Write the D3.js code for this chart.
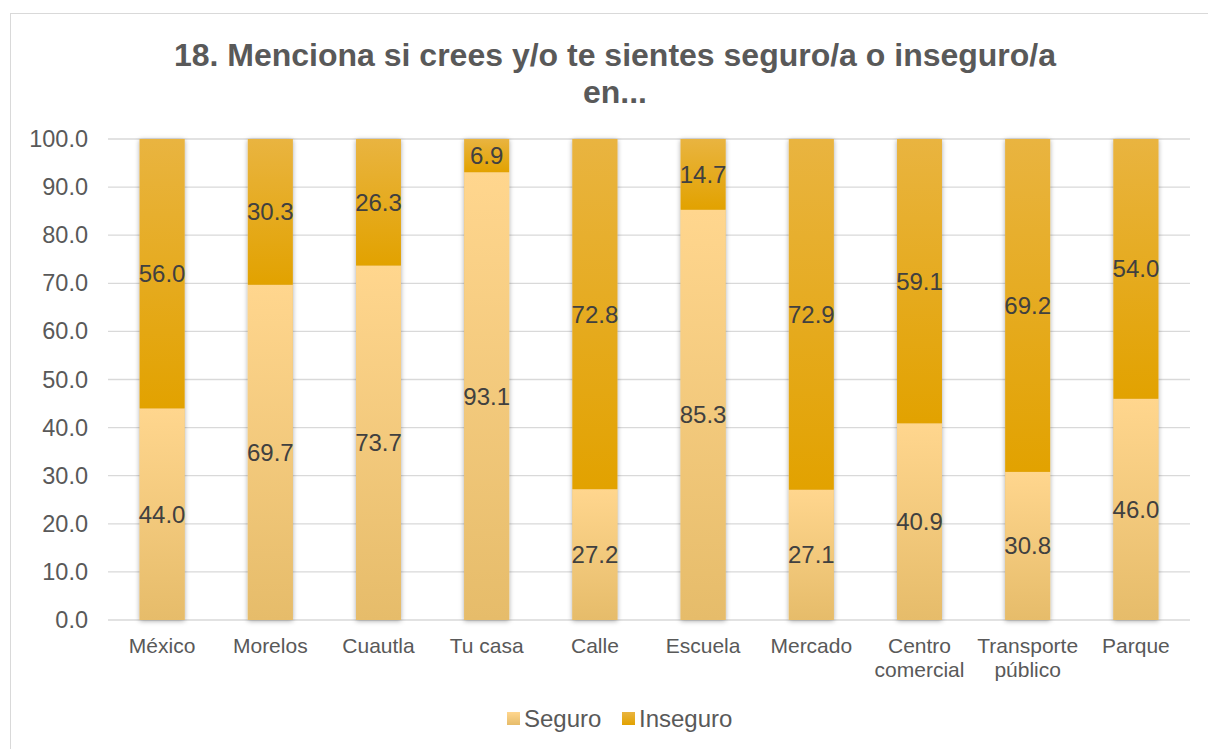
<!DOCTYPE html>
<html>
<head>
<meta charset="utf-8">
<script src="https://cdn.jsdelivr.net/npm/d3@7"></script>
<style>
  body { margin: 0; background: #fff; }
  svg { display: block; font-family: "Liberation Sans", Arial, sans-serif; }
</style>
</head>
<body>
<div id="chart"></div>
<script>
const categories = ["México", "Morelos", "Cuautla", "Tu casa", "Calle", "Escuela", "Mercado", "Centro comercial", "Transporte público", "Parque"];
const seguro = [44.0, 69.7, 73.7, 93.1, 27.2, 85.3, 27.1, 40.9, 30.8, 46.0];
const inseguro = [56.0, 30.3, 26.3, 6.9, 72.8, 14.7, 72.9, 59.1, 69.2, 54.0];
const seriesNames = ["Seguro", "Inseguro"];
const yTicks = [0, 10, 20, 30, 40, 50, 60, 70, 80, 90, 100];

const W = 1208, H = 749;
const margin = { top: 139, right: 18, bottom: 129, left: 108 };
const width = W - margin.left - margin.right,
      height = H - margin.top - margin.bottom;

const svg = d3.select("#chart").append("svg")
    .attr("width", W)
    .attr("height", H);

const defs = svg.append("defs");
const grads = [
  { id: "gSeguro", top: "#ffd68e", bottom: "#e6bc6a" },
  { id: "gInseguro", top: "#e9b440", bottom: "#e2a200" }
];
grads.forEach(g => {
  const lg = defs.append("linearGradient").attr("id", g.id)
      .attr("x1", 0).attr("y1", 0).attr("x2", 0).attr("y2", 1);
  lg.append("stop").attr("offset", "0%").attr("stop-color", g.top);
  lg.append("stop").attr("offset", "100%").attr("stop-color", g.bottom);
});
defs.append("filter").attr("id", "shadow")
    .attr("x", "-30%").attr("y", "-5%").attr("width", "160%").attr("height", "110%")
  .append("feDropShadow")
    .attr("dx", 0).attr("dy", 1).attr("stdDeviation", 2.5)
    .attr("flood-color", "#000").attr("flood-opacity", 0.35);

// chart frame
svg.append("rect")
    .attr("x", 10.5).attr("y", 13.5)
    .attr("width", W + 20).attr("height", H + 20)
    .attr("fill", "none").attr("stroke", "#d9d9d9").attr("stroke-width", 1);

// title
const title = svg.append("text")
    .attr("text-anchor", "middle")
    .attr("font-size", 32)
    .attr("font-weight", "bold")
    .attr("fill", "#595959");
title.append("tspan").attr("x", 615).attr("y", 66).text("18. Menciona si crees y/o te sientes seguro/a o inseguro/a");
title.append("tspan").attr("x", 615).attr("y", 103).text("en...");

const g = svg.append("g")
    .attr("transform", `translate(${margin.left},${margin.top})`);

const x = d3.scaleBand()
    .domain(categories)
    .range([0, width])
    .paddingInner(0.585)
    .paddingOuter(0.2925);

const y = d3.scaleLinear()
    .domain([0, 100])
    .range([height, 0]);

// gridlines
g.append("g")
  .selectAll("line")
  .data(yTicks)
  .join("line")
    .attr("x1", 0).attr("x2", width)
    .attr("y1", d => y(d)).attr("y2", d => y(d))
    .attr("stroke", "#d9d9d9").attr("stroke-width", 1.3);

// Y axis
const yAxis = g.append("g")
    .call(d3.axisLeft(y).tickValues(yTicks).tickFormat(d3.format(".1f")).tickSize(0).tickPadding(20));
yAxis.select(".domain").remove();
yAxis.selectAll("text")
    .attr("font-size", 23.5)
    .attr("font-family", "Liberation Sans, Arial, sans-serif")
    .attr("fill", "#595959");

// stacked data
const rows = categories.map((c, i) => ({ cat: c, Seguro: seguro[i], Inseguro: inseguro[i] }));
const stack = d3.stack().keys(seriesNames);
const stacked = stack(rows);
const fills = { Seguro: "url(#gSeguro)", Inseguro: "url(#gInseguro)" };

// bar shadows (whole bar)
g.append("g")
  .selectAll("rect")
  .data(rows)
  .join("rect")
    .attr("x", d => x(d.cat))
    .attr("y", d => y(d.Seguro + d.Inseguro))
    .attr("width", x.bandwidth())
    .attr("height", d => y(0) - y(d.Seguro + d.Inseguro))
    .attr("fill", "#e6bc6a")
    .attr("filter", "url(#shadow)");

const layers = g.append("g")
  .selectAll("g")
  .data(stacked)
  .join("g")
    .attr("fill", d => fills[d.key]);

layers.selectAll("rect")
  .data(d => d)
  .join("rect")
    .attr("x", d => x(d.data.cat))
    .attr("y", d => y(d[1]))
    .attr("width", x.bandwidth())
    .attr("height", d => y(d[0]) - y(d[1]));

// value labels
layers.selectAll("text")
  .data(d => d)
  .join("text")
    .attr("x", d => x(d.data.cat) + x.bandwidth() / 2)
    .attr("y", d => (y(d[0]) + y(d[1])) / 2 + 8.5)
    .attr("text-anchor", "middle")
    .attr("font-size", 24)
    .attr("fill", "#404040")
    .text(d => d3.format(".1f")(d[1] - d[0]));

// X axis
const wrapped = { "Centro comercial": ["Centro", "comercial"], "Transporte público": ["Transporte", "público"] };
const xAxis = g.append("g")
    .attr("transform", `translate(0,${height})`)
    .call(d3.axisBottom(x).tickSize(0).tickPadding(0));
xAxis.select(".domain").remove();
xAxis.selectAll("text").remove();
xAxis.selectAll(".tick").each(function(d) {
  const lines = wrapped[d] || [d];
  const t = d3.select(this).append("text")
      .attr("text-anchor", "middle")
      .attr("font-size", 21)
      .attr("fill", "#595959");
  lines.forEach((w, i) => {
    t.append("tspan").attr("x", 0).attr("y", 33 + i * 24).text(w);
  });
});

// legend
const legend = svg.append("g").attr("transform", "translate(507,712)");
const legendX = [0, 115];
seriesNames.forEach((s, i) => {
  const lgI = legend.append("g").attr("transform", `translate(${legendX[i]},0)`);
  lgI.append("rect").attr("width", 13).attr("height", 13).attr("fill", fills[s]);
  lgI.append("text").attr("x", 17).attr("y", 15)
      .attr("font-size", 24).attr("fill", "#595959").text(s);
});
</script>
</body>
</html>
